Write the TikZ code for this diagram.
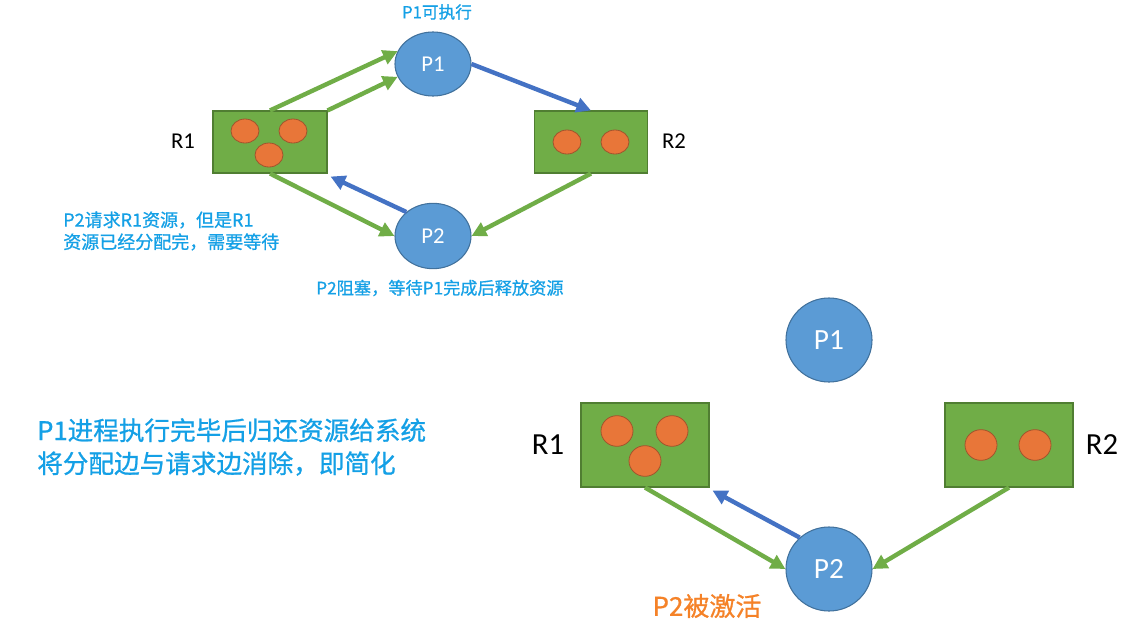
\documentclass[tikz,border=0pt]{standalone}
\usepackage{fontspec}
\setmainfont{Carlito}
\newfontfamily\cjk{Noto Sans CJK SC}[FakeBold=0.8]
\usetikzlibrary{arrows.meta,shapes.geometric}
\definecolor{procblue}{RGB}{91,155,213}
\definecolor{procedge}{RGB}{65,113,156}
\definecolor{resgreen}{RGB}{112,173,71}
\definecolor{resedge}{RGB}{80,126,50}
\definecolor{tokenorange}{RGB}{232,118,57}
\definecolor{tokenedge}{RGB}{160,85,45}
\definecolor{reqblue}{RGB}{68,114,196}
\definecolor{notecyan}{RGB}{20,160,230}
\definecolor{noteorange}{RGB}{245,130,40}

\begin{document}
\begin{tikzpicture}[x=0.75pt,y=-0.75pt,
  proc/.style={ellipse,draw=procedge,line width=0.8pt,fill=procblue,text=white,inner sep=0pt},
  res/.style={rectangle,draw=resedge,line width=0.8pt,fill=resgreen,inner sep=0pt},
  token/.style={ellipse,draw=tokenedge,line width=0.6pt,fill=tokenorange,inner sep=0pt},
  alloc/.style={-{Triangle[length=11pt,width=11pt]},resgreen,line width=3.3pt},
  req/.style={-{Triangle[length=11pt,width=11pt]},reqblue,line width=3.3pt},
  note/.style={text=notecyan,inner sep=0pt,anchor=west,align=left}]
  \fill[white] (0,0) rectangle (1122,625);
  \useasboundingbox (0,0) rectangle (1122,625);

  % 上方：简化前
  \node[proc,minimum width=57pt,minimum height=48pt,font=\fontsize{17}{20}\selectfont] (P1) at (433,64) {P1};
  \node[proc,minimum width=57pt,minimum height=49pt,font=\fontsize{17}{20}\selectfont] (P2) at (433,236) {P2};
  \node[res,minimum width=85.5pt,minimum height=46.5pt] (R1) at (270,142) {};
  \node[res,minimum width=85pt,minimum height=46.5pt] (R2) at (591,142) {};
  \node[font=\fontsize{17}{20}\selectfont] (R1lab) at (183,141) {R1};
  \node[font=\fontsize{17}{20}\selectfont] (R2lab) at (674,141) {R2};
  \foreach \x/\y [count=\i] in {245/131,293/131,269/155}
    \node[token,minimum width=21pt,minimum height=18pt] (ta\i) at (\x,\y) {};
  \foreach \x/\y [count=\i] in {567/142,615/142}
    \node[token,minimum width=21pt,minimum height=18pt] (tb\i) at (\x,\y) {};

  \draw[alloc] (R1.north) -- (P1.160);
  \draw[alloc] (R1.north east) -- (P1.200);
  \draw[req] (P1.east) -- (R2.north);
  \draw[alloc] (R1.south) -- (P2.west);
  \draw[req] (P2.138) -- ([shift={(3,3)}]R1.south east);
  \draw[alloc] (R2.south) -- (P2.east);

  % 上方文字
  \node[note,anchor=center,font=\cjk\fontsize{12.5}{15}\selectfont] (runnote) at (437,12) {P1可执行};
  \node[note,font=\cjk\fontsize{13.5}{16.5}\selectfont] (waitnote) at (63,231)
    {P2请求R1资源，但是R1\\资源已经分配完，需要等待};
  \node[note,font=\cjk\fontsize{12.9}{15}\selectfont] (blocknote) at (316,288) {P2阻塞，等待P1完成后释放资源};

  % 下方：简化后
  \node[proc,minimum width=64.5pt,minimum height=63pt,font=\fontsize{22}{26}\selectfont] (Q1) at (829,340) {P1};
  \node[proc,minimum width=64.5pt,minimum height=63pt,font=\fontsize{22}{26}\selectfont] (Q2) at (829,569) {P2};
  \node[res,minimum width=96pt,minimum height=63pt] (S1) at (645,445) {};
  \node[res,minimum width=96pt,minimum height=63pt] (S2) at (1009,445) {};
  \node[font=\fontsize{23}{27}\selectfont] (S1lab) at (548,445) {R1};
  \node[font=\fontsize{23}{27}\selectfont] (S2lab) at (1102,445) {R2};
  \foreach \x/\y [count=\i] in {617/431,672/431,645/461}
    \node[token,minimum width=24pt,minimum height=23pt] (sa\i) at (\x,\y) {};
  \foreach \x/\y [count=\i] in {981/445,1035/445}
    \node[token,minimum width=24pt,minimum height=23pt] (sb\i) at (\x,\y) {};

  \draw[alloc] (S1.south) -- (Q2.west);
  \draw[req] (Q2.133) -- ([shift={(3,3)}]S1.south east);
  \draw[alloc] (S2.south) -- (Q2.east);

  % 下方文字
  \node[note,font=\cjk\fontsize{19.2}{24.75}\selectfont] (sumnote) at (37,447)
    {P1进程执行完毕后归还资源给系统\\将分配边与请求边消除，即简化};
  \node[note,anchor=center,text=noteorange,font=\cjk\fontsize{19.5}{24}\selectfont] (wakenote) at (707,606) {P2被激活};
\end{tikzpicture}
\end{document}
